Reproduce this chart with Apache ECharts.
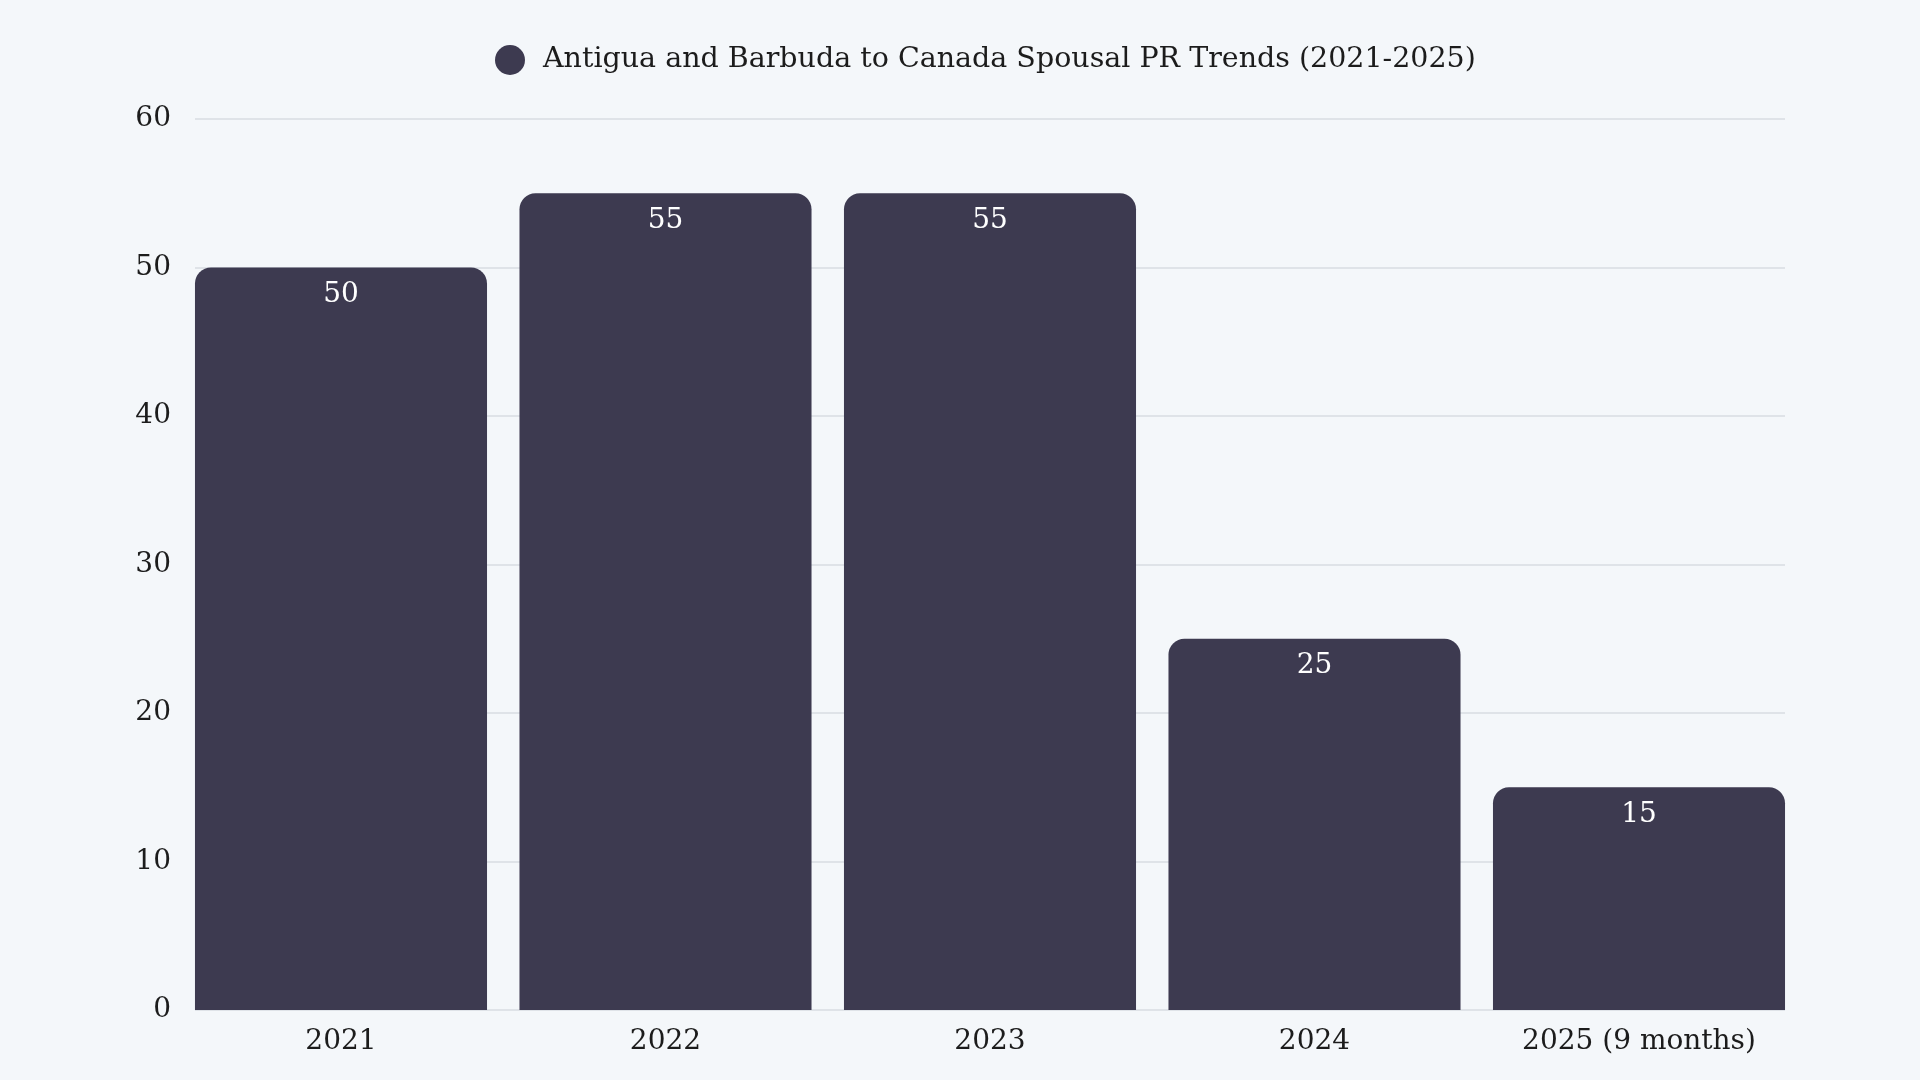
<!DOCTYPE html>
<html>
<head>
<meta charset="utf-8">
<script src="https://cdn.jsdelivr.net/npm/echarts@6/dist/echarts.min.js"></script>
<style>
  html, body { margin: 0; padding: 0; background: #f4f7fa; }
  #chart { width: 1920px; height: 1080px; }
</style>
</head>
<body>
<div id="chart"></div>
<script>
var years = ['2021', '2022', '2023', '2024', '2025 (9 months)'];
var spousalPR = [50, 55, 55, 25, 15];
var seriesName = 'Antigua and Barbuda to Canada Spousal PR Trends (2021-2025)';

var myChart = echarts.init(document.getElementById('chart'));
var fontName = '"DejaVu Serif", serif';
var barColor = '#3d3a50';
var textColor = '#1c1c1c';

var option = {
  backgroundColor: '#f4f7fa',
  animation: false,
  textStyle: { fontFamily: fontName },
  legend: {
    left: 490,
    top: 40,
    icon: 'circle',
    itemWidth: 30,
    itemHeight: 30,
    textStyle: {
      fontFamily: fontName,
      fontSize: 28.5,
      color: textColor,
      padding: [4, 0, 0, 13]
    },
    data: [seriesName]
  },
  // grid 0 only carries the horizontal grid lines and y labels,
  // grid 1 is a bit wider so the bars sit flush with the edges
  grid: [
    { left: 195, right: 135, top: 119, bottom: 70 },
    { left: 178.75, right: 118.75, top: 119, bottom: 70 }
  ],
  xAxis: [
    {
      type: 'category',
      gridIndex: 0,
      data: years,
      show: false
    },
    {
      type: 'category',
      gridIndex: 1,
      data: years,
      axisLine: { show: false },
      axisTick: { show: false },
      axisLabel: {
        margin: 18,
        fontFamily: fontName,
        fontSize: 28,
        color: textColor
      }
    }
  ],
  yAxis: [
    {
      type: 'value',
      gridIndex: 0,
      min: 0,
      max: 60,
      interval: 10,
      axisLine: { show: false },
      axisTick: { show: false },
      axisLabel: {
        margin: 24,
        fontFamily: fontName,
        fontSize: 28,
        color: textColor,
        padding: [5, 0, 0, 0]
      },
      splitLine: { lineStyle: { color: '#d9dce2', width: 1.5 } }
    },
    {
      type: 'value',
      gridIndex: 1,
      min: 0,
      max: 60,
      interval: 10,
      show: false,
      splitLine: { show: false }
    }
  ],
  series: [
    {
      name: seriesName,
      type: 'bar',
      xAxisIndex: 1,
      yAxisIndex: 1,
      data: spousalPR,
      barCategoryGap: '10%',
      itemStyle: {
        color: barColor,
        borderRadius: [16, 16, 0, 0]
      },
      label: {
        show: true,
        position: 'insideTop',
        distance: 13,
        fontFamily: fontName,
        fontSize: 28,
        color: '#ffffff'
      }
    }
  ]
};

myChart.setOption(option);
</script>
</body>
</html>
